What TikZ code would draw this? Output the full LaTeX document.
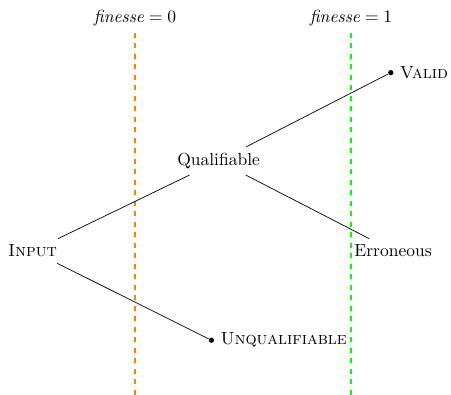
\documentclass[tikz,border=0pt]{standalone}
\usepackage{amsmath}
\usetikzlibrary{positioning}
\tikzset{
  leaf/.style={circle, fill, inner sep=0pt, minimum size=3pt},
  bound/.style={dashed, line width=1.4pt}
  }

\begin{document}
\begin{tikzpicture}

    \useasboundingbox (-18.6pt,-82.3pt) rectangle (239.1pt,143.4pt);

    \node at (0,0) (input) {\textsc{Input}};

    \node [on grid, above right=51.4pt and 106.3pt of input] (qual) {Qualifiable};
    \node [leaf, on grid, below right=51pt and 102.2pt of input, label={right:\textsc{Unqualifiable}}] (unqual) {};
    \node [leaf, on grid, above right=50.5pt and 98.4pt of qual, label={right:\textsc{Valid}}] (valid) {};
    \node [on grid, below right=51.4pt and 99.7pt of qual] (err) {Erroneous};

    % the two finesse levels
    \draw [bound, orange] (58.6pt,-82.3pt) -- (58.6pt,124.6pt)
      node [above, text=black] (fin0) {\textit{finesse}${}=0$};
    \draw [bound, green] (182pt,-82.3pt) -- (182pt,124.6pt)
      node [above, text=black] (fin1) {\textit{finesse}${}=1$};

    \draw (input) -- (qual);
    \draw (input) -- (unqual);
    \draw (qual) -- (valid);
    \draw (qual) -- (err);

\end{tikzpicture}
\end{document}
